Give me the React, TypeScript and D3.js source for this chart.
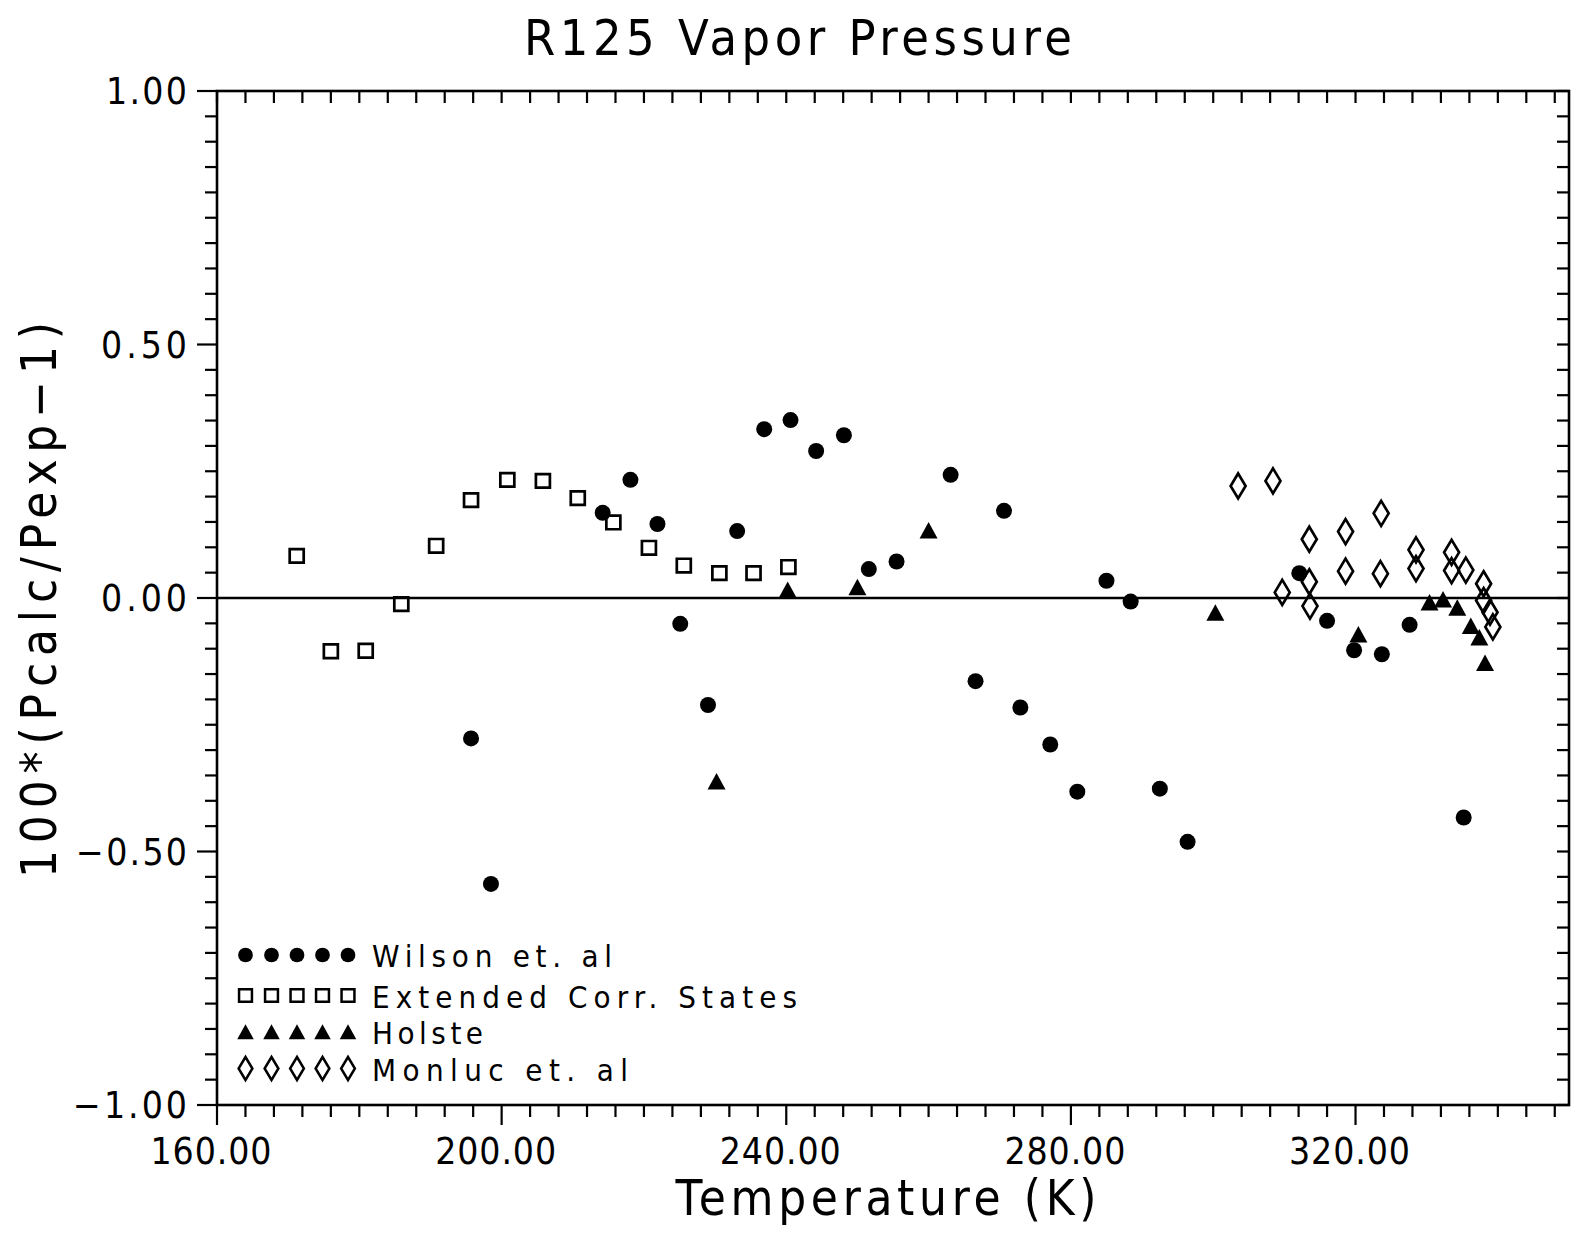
import React from 'react';
import * as d3 from 'd3';

// ---- data (Temperature K, 100*(Pcalc/Pexp-1)) ----
const wilsonT = [195.7, 198.5, 214.2, 218.1, 221.9, 225.1, 229.0, 233.1, 236.9, 240.6, 244.2, 248.1, 251.6, 255.5, 263.1, 266.6, 270.6, 272.9, 277.1, 280.9, 285.0, 288.4, 292.5, 296.4, 312.1, 316.0, 319.8, 323.7, 327.6, 335.2];
const wilsonDev = [-0.277, -0.564, 0.168, 0.233, 0.146, -0.051, -0.211, 0.132, 0.333, 0.351, 0.290, 0.321, 0.057, 0.072, 0.243, -0.164, 0.172, -0.216, -0.289, -0.382, 0.034, -0.007, -0.376, -0.481, 0.049, -0.045, -0.103, -0.111, -0.053, -0.433];

const ecsT = [171.2, 176.0, 180.9, 185.9, 190.8, 195.7, 200.8, 205.8, 210.7, 215.7, 220.7, 225.6, 230.6, 235.4, 240.3];
const ecsDev = [0.083, -0.105, -0.104, -0.012, 0.103, 0.193, 0.233, 0.231, 0.197, 0.149, 0.099, 0.064, 0.049, 0.049, 0.061];

const holsteT = [230.2, 240.2, 250.0, 260.0, 300.3, 320.4, 330.4, 332.3, 334.3, 336.2, 337.4, 338.2];
const holsteDev = [-0.362, 0.016, 0.021, 0.133, -0.029, -0.072, -0.009, -0.003, -0.019, -0.055, -0.078, -0.128];

const monlucT = [303.5, 308.4, 309.7, 313.5, 313.5, 313.6, 318.6, 318.6, 323.6, 323.5, 328.5, 328.5, 333.5, 333.5, 335.5, 338.0, 338.0, 338.9, 339.3];
const monlucDev = [0.221, 0.231, 0.011, 0.116, 0.032, -0.016, 0.131, 0.053, 0.167, 0.048, 0.095, 0.058, 0.090, 0.054, 0.055, 0.028, -0.005, -0.028, -0.057];

const xMajorTicks = [160, 200, 240, 280, 320];
const yMajorTicks = [1, 0.5, 0, -0.5, -1];
const legendLabels = ['Wilson  et.  al', 'Extended  Corr.  States', 'Holste', 'Monluc  et.  al'];

const FONT = "'Liberation Sans Narrow', 'DejaVu Sans Condensed', 'Liberation Sans', sans-serif";

const circlePath = 'M-8,0 A8,8 0 1,0 8,0 A8,8 0 1,0 -8,0 Z';
const squarePath = 'M-7,-6.8 L7,-6.8 L7,6.8 L-7,6.8 Z';
const trianglePath = 'M0,-8.5 L9,8 L-9,8 Z';
const diamondPath = 'M0,-12.5 L7.5,0 L0,12.5 L-7.5,0 Z';

type Marker = { d: string; fill: string; stroke: string; sw: number };
const markers: Marker[] = [
  { d: circlePath, fill: '#000', stroke: 'none', sw: 0 },
  { d: squarePath, fill: 'none', stroke: '#000', sw: 2.7 },
  { d: trianglePath, fill: '#000', stroke: 'none', sw: 0 },
  { d: diamondPath, fill: 'none', stroke: '#000', sw: 2.7 },
];

export default function App() {
  const W = 1585, H = 1235;
  const left = 217, right = 1569, top = 91, bottom = 1105;
  const x = d3.scaleLinear().domain([160, 350]).range([left, right]);
  const y = d3.scaleLinear().domain([-1, 1]).range([bottom, top]);

  const xMinor = d3.range(160, 350.01, 4);
  const yMinor = d3.range(-1, 1.0001, 0.05);
  const isMajorX = (v: number) => xMajorTicks.some(m => Math.abs(m - v) < 1e-6);
  const isMajorY = (v: number) => yMajorTicks.some(m => Math.abs(m - v) < 1e-6);

  const series = [
    { t: wilsonT, v: wilsonDev, m: markers[0] },
    { t: ecsT, v: ecsDev, m: markers[1] },
    { t: holsteT, v: holsteDev, m: markers[2] },
    { t: monlucT, v: monlucDev, m: markers[3] },
  ];

  const yLabelWidths: Record<string, number> = { '1.00': 81, '0.50': 86, '0.00': 86, '-0.50': 111, '-1.00': 114 };
  const fmt = (v: number) => (v < 0 ? '\u2212' : '') + Math.abs(v).toFixed(2);

  const legendY = [955, 995.5, 1032, 1068.5];
  const legendX = [245.5, 271.5, 297, 322.5, 348];
  const legendW = [240, 425, 111, 256];

  return (
    <svg width={W} height={H} style={{ position: 'absolute', left: 0, top: 0, background: '#fff' }} fontFamily={FONT}>
      <rect x={0} y={0} width={W} height={H} fill="#fff" />
      {/* title */}
      <text x={798} y={55} fontSize={50} textAnchor="middle" textLength={548} lengthAdjust="spacing">R125  Vapor  Pressure</text>

      {/* frame */}
      <rect x={left} y={top} width={right - left} height={bottom - top} fill="none" stroke="#000" strokeWidth={2.6} />

      {/* bottom ticks (outward) and top ticks (inward) */}
      {xMinor.map(v => (
        <g key={'xt' + v}>
          <line x1={x(v)} x2={x(v)} y1={bottom} y2={bottom + (isMajorX(v) ? 20 : 12)} stroke="#000" strokeWidth={2.2} />
          <line x1={x(v)} x2={x(v)} y1={top} y2={top + 12} stroke="#000" strokeWidth={2.2} />
        </g>
      ))}
      {/* left ticks (outward) and right ticks (inward) */}
      {yMinor.map(v => (
        <g key={'yt' + v.toFixed(2)}>
          <line x1={left - (isMajorY(v) ? 20 : 12)} x2={left} y1={y(v)} y2={y(v)} stroke="#000" strokeWidth={2.2} />
          <line x1={right - 12} x2={right} y1={y(v)} y2={y(v)} stroke="#000" strokeWidth={2.2} />
        </g>
      ))}

      {/* zero line */}
      <line x1={left} x2={right} y1={y(0)} y2={y(0)} stroke="#000" strokeWidth={2.4} />

      {/* x tick labels */}
      {xMajorTicks.map(v => (
        <text key={'xl' + v} x={x(v) - 6} y={1164} fontSize={37} textAnchor="middle" textLength={121} lengthAdjust="spacing">{v.toFixed(2)}</text>
      ))}
      {/* y tick labels */}
      {yMajorTicks.map(v => {
        const key = (v < 0 ? '-' : '') + Math.abs(v).toFixed(2);
        return (
          <text key={'yl' + v} x={187} y={y(v) + 13} fontSize={37} textAnchor="end" textLength={yLabelWidths[key]} lengthAdjust="spacing">{fmt(v)}</text>
        );
      })}

      {/* axis titles */}
      <text x={886} y={1215} fontSize={49} textAnchor="middle" textLength={421} lengthAdjust="spacing">Temperature  (K)</text>
      <text transform="translate(56,600) rotate(-90)" x={0} y={0} fontSize={49} textAnchor="middle" textLength={556} lengthAdjust="spacing">100*(Pcalc/Pexp{'\u2212'}1)</text>

      {/* data */}
      {series.map((s, si) => (
        <g key={'s' + si}>
          {s.t.map((t, i) => (
            <path key={i} d={s.m.d} transform={`translate(${x(t)},${y(s.v[i])})`} fill={s.m.fill} stroke={s.m.stroke} strokeWidth={s.m.sw} />
          ))}
        </g>
      ))}

      {/* legend */}
      {legendLabels.map((lab, li) => (
        <g key={'lg' + li}>
          {legendX.map((lx, k) => (
            <path key={k} d={markers[li].d} transform={`translate(${lx},${legendY[li]}) scale(0.92)`} fill={markers[li].fill} stroke={markers[li].stroke} strokeWidth={markers[li].sw} />
          ))}
          <text x={372} y={legendY[li] + 12} fontSize={31} textLength={legendW[li]} lengthAdjust="spacing">{lab}</text>
        </g>
      ))}
    </svg>
  );
}
